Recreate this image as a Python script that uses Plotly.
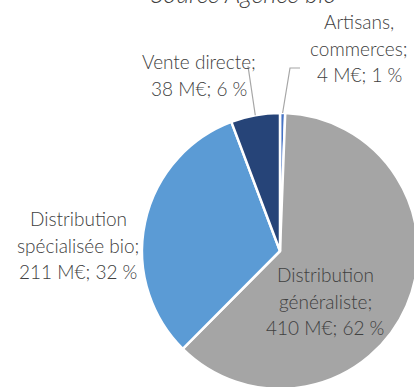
import math
import plotly.graph_objects as go

# Ventes de produits bio par circuit de distribution (M€)
categories = ["Artisans,<br>commerces", "Distribution<br>généraliste",
              "Distribution<br>spécialisée bio", "Vente directe"]
values_meur = [4, 410, 211, 38]
colors = ["#4472C4", "#A5A5A5", "#5B9BD5", "#264478"]
title_text = "Source Agence bio"

W, H = 420, 392          # canvas in px (page clips to the window)
CX, CY, R = 280, 251, 138  # pie centre and radius in px
LINE_H = 26.5             # label line spacing in px

total = sum(values_meur)
label_lines = [f"{c};<br>{v} M€; {round(100 * v / total)} %".split("<br>")
               for c, v in zip(categories, values_meur)]

fig = go.Figure()
fig.add_trace(go.Pie(
    labels=categories,
    values=values_meur,
    sort=False,
    direction="clockwise",
    rotation=0,
    marker=dict(colors=colors, line=dict(color="white", width=2.5)),
    textinfo="none",
    hoverinfo="skip",
    showlegend=False,
    domain=dict(x=[(CX - R) / W, (CX + R) / W],
                y=[(H - CY - R) / H, (H - CY + R) / H]),
))

# mid-angle anchor of every slice on the pie edge
anchors = []
cum = 0
for v in values_meur:
    a = math.radians(360 * (cum + v / 2) / total)
    anchors.append((CX + R * math.sin(a), CY - R * math.cos(a)))
    cum += v

# label block centres (px) and leader-line start points
label_pos = [(359, 48), (325, 301), (78, 245), (199, 75)]
leaders = {0: [(300, 68), (290, 68)], 3: [(248, 66)]}

font = dict(family="'Lato Light', Lato, 'Open Sans', sans-serif",
            size=19, color="#404040")
shapes = []
for i, pts in leaders.items():
    path = [*pts, anchors[i]]
    d = "M " + " L ".join(f"{x},{y}" for x, y in path)
    shapes.append(dict(type="path", path=d, xref="x", yref="y",
                       line=dict(color="#A6A6A6", width=1.2)))

annotations = []
for lines, (x, y) in zip(label_lines, label_pos):
    y0 = y - LINE_H * (len(lines) - 1) / 2
    for k, line in enumerate(lines):
        annotations.append(dict(x=x, y=y0 + k * LINE_H, xref="x", yref="y",
                                text=line, showarrow=False,
                                xanchor="center", yanchor="middle",
                                font=font))
annotations.append(dict(x=243 / W, y=1, xref="paper", yref="paper",
                        text="<i>" + title_text + "</i>",
                        showarrow=False, xanchor="center", yanchor="middle",
                        yshift=7, font=dict(font, size=25)))

fig.update_layout(
    width=W, height=H,
    margin=dict(l=0, r=0, t=0, b=0),
    paper_bgcolor="white", plot_bgcolor="rgba(0,0,0,0)",
    xaxis=dict(range=[0, W], visible=False, fixedrange=True),
    yaxis=dict(range=[H, 0], visible=False, fixedrange=True),
    shapes=shapes,
    annotations=annotations,
)

fig.write_html(
    "out.html",
    config={"displayModeBar": False, "staticPlot": True},
    post_script="document.documentElement.style.overflow='hidden';"
                "document.body.style.overflow='hidden';",
)
